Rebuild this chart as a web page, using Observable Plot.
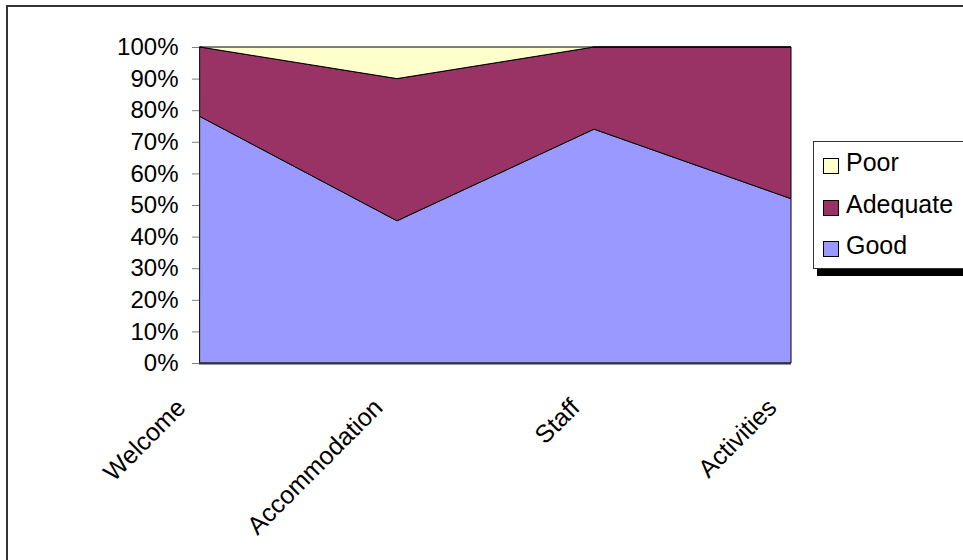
<!DOCTYPE html>
<html><head><meta charset="utf-8">
<script src="https://cdn.jsdelivr.net/npm/d3@7"></script>
<script src="https://cdn.jsdelivr.net/npm/@observablehq/plot@0.6"></script>
<style>
html,body{margin:0;padding:0;background:#fff;overflow:hidden;width:963px;height:560px}
#wrap{position:relative;width:963px;height:560px;overflow:hidden}
#wrap svg{position:absolute;left:0;top:0}
#frame{position:absolute;left:6px;top:5px;width:1000px;height:1000px;border:2px solid #333;box-sizing:border-box;pointer-events:none}
#legend{position:absolute;left:813px;top:141px;width:170px;height:128px;box-sizing:border-box;border:1px solid #333;background:#fff;box-shadow:4px 7px 0 #000;font:25px "Liberation Sans",Arial,sans-serif;color:#000;padding-top:0px;padding-left:9px}
.item{height:41.5px;line-height:41.5px;white-space:nowrap}
.sw{display:inline-block;width:14px;height:14px;border:1px solid #000;margin-right:7px;vertical-align:-3px}
</style></head><body><div id="wrap"></div>
<script>
const categories = ["Welcome", "Accommodation", "Staff", "Activities"];
const series = ["Good", "Adequate", "Poor"];
const good = [78, 45, 74, 52];
const adequate = [22, 45, 26, 48];
const poor = [0, 10, 0, 0];
const colors = ["#9999FF", "#993366", "#FFFFCC"];
const yTicks = [0, 10, 20, 30, 40, 50, 60, 70, 80, 90, 100];

const valuesBySeries = [good, adequate, poor];
const data = [];
series.forEach((s, si) => {
  categories.forEach((c, i) => data.push({category: c, series: s, value: valuesBySeries[si][i]}));
});

const chart = Plot.plot({
  width: 963,
  height: 560,
  marginLeft: 199,
  marginRight: 172,
  marginTop: 47,
  marginBottom: 197,
  style: {fontFamily: "'Liberation Sans', Arial, sans-serif", fontSize: "24px", color: "#000", background: "transparent"},
  x: {type: "point", domain: categories, padding: 0},
  y: {domain: [0, 100]},
  color: {domain: series, range: colors},
  marks: [
    Plot.areaY(data, {x: "category", y: "value", fill: "series", order: series, stroke: "#000", strokeWidth: 1}),
    Plot.ruleY([0], {stroke: "#333", strokeWidth: 2}),
    Plot.axisY({ticks: yTicks, tickFormat: d => d + "%", tickSize: 7, tickPadding: 14, stroke: "#808080", label: null}),
    Plot.axisX({tickSize: 0, tickRotate: -45, tickPadding: 40, dx: -19, fontSize: 25, label: null})
  ]
});

const wrap = document.getElementById("wrap");
wrap.appendChild(chart);
const frame = document.createElement("div");
frame.id = "frame";
wrap.appendChild(frame);

const legend = document.createElement("div");
legend.id = "legend";
series.slice().reverse().forEach(s => {
  const item = document.createElement("div");
  item.className = "item";
  const sw = document.createElement("span");
  sw.className = "sw";
  sw.style.background = colors[series.indexOf(s)];
  item.appendChild(sw);
  item.appendChild(document.createTextNode(s));
  legend.appendChild(item);
});
wrap.appendChild(legend);
</script>
</body></html>
